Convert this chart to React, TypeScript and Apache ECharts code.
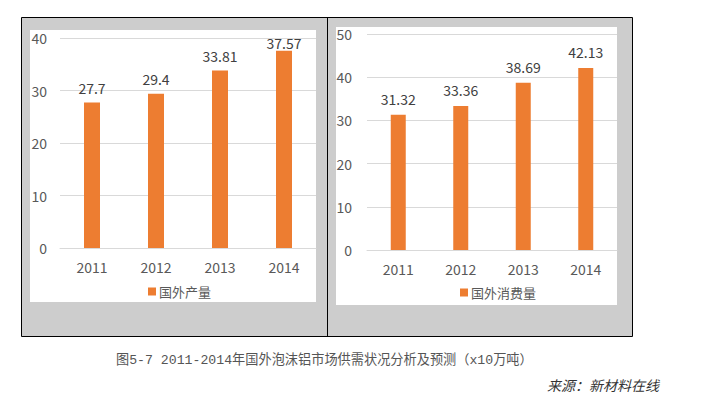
import React, { useEffect, useRef } from "react";
import * as echarts from "echarts";

const years = ["2011", "2012", "2013", "2014"];
const productionValues = [27.7, 29.4, 33.81, 37.57];
const consumptionValues = [31.32, 33.36, 38.69, 42.13];
const productionName = "国外产量";
const consumptionName = "国外消费量";
const captionText = "图5-7 2011-2014年国外泡沫铝市场供需状况分析及预测（x10万吨）";
const sourceText = "来源：新材料在线";

const FONT = "'Noto Sans CJK SC', 'Noto Sans', sans-serif";
const BAR = "#ED7D31";

export default function App() {
  const ref = useRef<HTMLDivElement>(null);
  useEffect(() => {
    if (!ref.current) return;
    const chart = echarts.init(ref.current, undefined, { renderer: "svg" });
    const axisLabel = { color: "#595959", fontSize: 14, fontFamily: FONT };
    const catAxis = (gi: number) => ({
      type: "category",
      gridIndex: gi,
      data: years,
      axisLine: { show: true, lineStyle: { color: "#d9d9d9" } },
      axisTick: { show: false },
      axisLabel: { ...axisLabel, margin: 12 },
    });
    const valAxis = (gi: number, max: number, margin: number) => ({
      type: "value",
      gridIndex: gi,
      min: 0,
      max,
      interval: 10,
      axisLine: { show: false },
      axisTick: { show: false },
      axisLabel: { ...axisLabel, margin },
      splitLine: { lineStyle: { color: "#d9d9d9" } },
    });
    const labelStyle = {
      show: true,
      position: "top",
      color: "#404040",
      fontSize: 14,
      fontFamily: FONT,
    };
    chart.setOption({
      animation: false,
      graphic: [
        {
          type: "rect",
          z: -10,
          shape: { x: 21.5, y: 17.5, width: 611, height: 319 },
          style: { fill: "#cdcdcd", stroke: "#000", lineWidth: 1 },
        },
        {
          type: "rect",
          z: -9,
          shape: { x: 30, y: 30, width: 286, height: 272 },
          style: { fill: "#fff" },
        },
        {
          type: "rect",
          z: -9,
          shape: { x: 336, y: 27, width: 281, height: 278 },
          style: { fill: "#fff" },
        },
        {
          type: "line",
          z: -8,
          shape: { x1: 327.5, y1: 17.5, x2: 327.5, y2: 336.5 },
          style: { stroke: "#000", lineWidth: 1 },
        },
        {
          type: "text",
          x: 116,
          y: 360,
          style: {
            text: captionText,
            fill: "#555",
            fontSize: 13.2,
            fontFamily: "'Liberation Mono', 'Noto Sans CJK SC', monospace",
            verticalAlign: "middle",
          },
        },
        {
          type: "text",
          x: 547,
          y: 385,
          style: {
            text: sourceText,
            fill: "#333",
            fontSize: 14,
            fontStyle: "italic",
            fontFamily: FONT,
            verticalAlign: "middle",
          },
        },
      ],
      grid: [
        { left: 60, top: 38, width: 256, height: 210 },
        { left: 367, top: 34, width: 250, height: 216 },
      ],
      xAxis: [catAxis(0), catAxis(1)],
      yAxis: [valAxis(0, 40, 13), valAxis(1, 50, 15)],
      legend: [
        {
          data: [productionName],
          left: 143,
          top: 280,
          itemWidth: 8,
          itemHeight: 8,
          icon: "rect",
          textStyle: { color: "#595959", fontSize: 13, fontFamily: FONT, padding: [0, 0, 0, -2] },
        },
        {
          data: [consumptionName],
          left: 455,
          top: 281,
          itemWidth: 8,
          itemHeight: 8,
          icon: "rect",
          textStyle: { color: "#595959", fontSize: 13, fontFamily: FONT, padding: [0, 0, 0, -2] },
        },
      ],
      series: [
        {
          type: "bar",
          name: productionName,
          xAxisIndex: 0,
          yAxisIndex: 0,
          barWidth: 16,
          itemStyle: { color: BAR },
          label: { ...labelStyle, distance: 8 },
          data: productionValues.map((v, i) =>
            i === productionValues.length - 1 ? { value: v, label: { distance: 1 } } : v
          ),
        },
        {
          type: "bar",
          name: consumptionName,
          xAxisIndex: 1,
          yAxisIndex: 1,
          barWidth: 15,
          itemStyle: { color: BAR },
          label: { ...labelStyle, distance: 9 },
          data: consumptionValues,
        },
      ],
    });
    return () => chart.dispose();
  }, []);
  return (
    <div
      ref={ref}
      style={{ position: "fixed", left: 0, top: 0, width: 725, height: 393, background: "#fff" }}
    />
  );
}
